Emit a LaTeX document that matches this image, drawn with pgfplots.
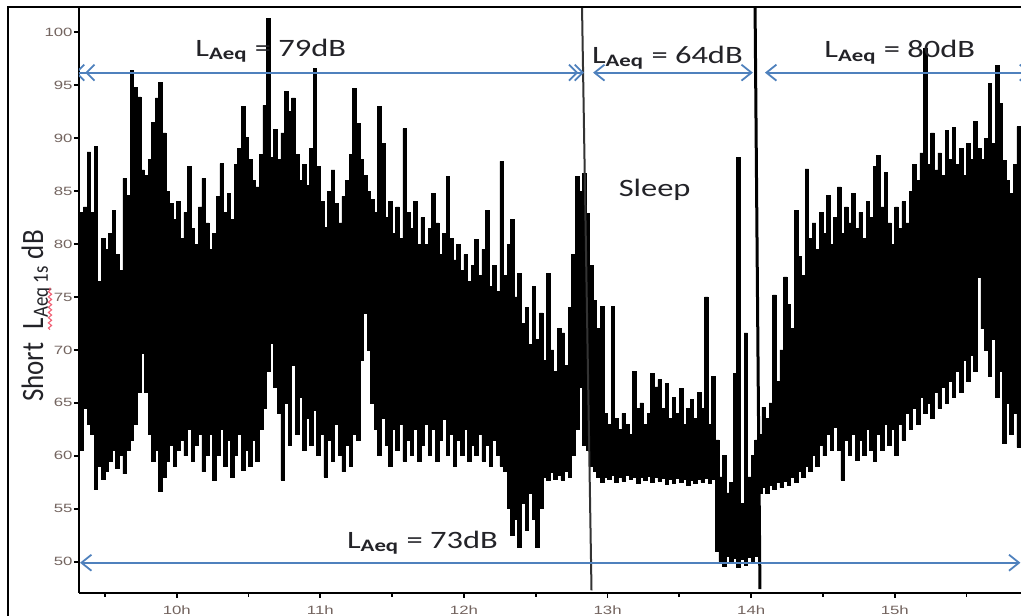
\documentclass[border=0pt]{standalone}
\usepackage{pgfplots}
\pgfplotsset{compat=1.18}
\usepackage{pgfplotstable}
\usepgfplotslibrary{fillbetween}
\usetikzlibrary{arrows.meta,decorations.pathmorphing}
\usepackage{fontspec}
\setmainfont{Carlito}
\newfontfamily\annfont[FakeStretch=1.3]{Carlito}
\newfontfamily\tickfont[FakeStretch=1.4]{Liberation Sans}
\definecolor{ablue}{RGB}{79,129,189}
\definecolor{tickgray}{RGB}{115,100,95}
\definecolor{txt}{RGB}{35,35,40}
\definecolor{squig}{RGB}{240,95,115}
\newcommand\LA{L\textsubscript{\bfseries Aeq}}

\pgfplotstableread{
x u l
9.319 83.0 60.5
9.325 83.0 60.5
9.350 83.5 64.5
9.375 88.7 63.0
9.400 83.0 62.0
9.425 89.2 56.8
9.450 76.5 59.0
9.475 80.5 57.8
9.500 79.5 58.5
9.525 81.0 59.5
9.550 83.2 60.5
9.575 79.0 58.8
9.600 77.5 60.0
9.625 86.2 58.3
9.650 84.6 60.5
9.675 96.4 61.5
9.700 94.8 63.0
9.725 93.9 66.0
9.750 87.0 69.7
9.775 86.5 66.0
9.800 88.0 62.0
9.825 91.5 59.5
9.850 93.8 60.5
9.875 95.3 56.6
9.900 90.5 58.0
9.925 85.0 59.5
9.950 83.8 61.0
9.975 82.3 59.0
10.000 84.0 60.5
10.025 80.5 61.5
10.050 83.0 60.0
10.075 87.3 62.5
10.100 81.5 59.5
10.125 80.0 61.0
10.150 83.5 62.0
10.175 86.2 58.5
10.200 82.0 60.0
10.225 79.5 62.0
10.250 81.0 57.7
10.275 84.5 60.0
10.300 87.6 62.5
10.325 83.0 59.0
10.350 84.8 61.5
10.375 82.3 58.0
10.400 87.5 60.0
10.425 89.0 62.0
10.450 93.0 58.6
10.475 90.1 60.5
10.500 88.0 59.0
10.525 86.0 61.5
10.550 85.4 59.5
10.575 88.5 62.5
10.600 93.1 64.5
10.625 101.3 68.0
10.650 88.2 70.6
10.675 90.8 66.5
10.700 88.0 64.0
10.725 90.5 57.7
10.750 94.4 65.0
10.775 92.5 61.0
10.800 93.8 68.5
10.825 88.5 62.0
10.850 86.0 65.5
10.875 87.5 60.5
10.900 85.5 63.5
10.925 89.0 61.0
10.950 96.6 64.3
10.975 87.3 60.0
11.000 84.0 62.0
11.025 81.6 58.0
11.050 85.0 61.5
11.075 87.0 59.5
11.100 83.8 63.0
11.125 82.0 60.0
11.150 84.5 58.5
11.175 86.0 61.0
11.200 88.5 59.0
11.225 94.7 62.0
11.250 91.4 61.5
11.275 88.0 69.0
11.300 86.5 73.5
11.325 85.0 70.0
11.350 84.2 65.0
11.375 83.0 62.5
11.400 93.0 60.0
11.425 89.5 63.5
11.450 82.5 61.0
11.475 84.0 59.0
11.500 81.0 62.5
11.525 83.5 60.5
11.550 80.5 63.0
11.575 90.9 59.5
11.600 83.0 61.5
11.625 81.5 60.0
11.650 84.0 62.5
11.675 80.0 59.5
11.700 82.5 61.0
11.725 80.0 63.0
11.750 81.5 60.0
11.775 84.8 62.5
11.800 82.0 59.5
11.825 79.0 61.5
11.850 81.0 63.4
11.875 86.4 60.0
11.900 80.5 62.0
11.925 78.5 59.0
11.950 80.0 61.5
11.975 77.5 60.0
12.000 79.0 62.5
12.025 76.5 59.5
12.050 78.0 61.0
12.075 80.4 60.0
12.100 77.0 62.0
12.125 79.5 59.5
12.150 83.2 61.0
12.175 76.0 59.0
12.200 78.0 61.5
12.225 75.5 60.0
12.250 87.8 59.0
12.275 77.0 58.5
12.300 80.0 55.0
12.325 82.3 52.5
12.350 75.0 54.0
12.375 77.2 51.4
12.400 72.5 55.5
12.425 74.0 53.0
12.450 70.5 56.5
12.475 76.0 54.0
12.500 71.0 51.4
12.525 73.5 55.0
12.550 69.0 58.0
12.575 77.2 57.7
12.600 70.0 58.4
12.625 68.0 57.8
12.650 72.0 58.2
12.675 71.6 57.7
12.700 68.5 58.5
12.725 74.0 58.0
12.750 79.0 60.0
12.775 86.4 62.5
12.800 85.0 66.5
12.825 86.7 61.0
12.850 82.9 60.5
12.875 78.0 59.0
12.900 74.7 58.5
12.925 72.0 58.0
12.950 74.1 57.5
12.975 64.0 58.0
13.000 63.0 57.8
13.025 74.1 58.2
13.050 63.5 57.5
13.075 62.5 58.0
13.100 64.0 57.6
13.125 63.0 58.2
13.150 62.0 57.8
13.175 68.0 58.0
13.200 64.5 57.4
13.225 65.0 58.0
13.250 63.0 57.7
13.275 64.0 58.1
13.300 67.8 57.5
13.325 66.5 58.0
13.350 67.2 57.6
13.375 64.5 57.9
13.400 66.8 57.3
13.425 63.5 57.8
13.450 65.5 57.4
13.475 64.0 57.9
13.500 66.4 57.5
13.525 63.0 57.8
13.550 64.5 57.2
13.575 65.3 57.7
13.600 63.5 57.4
13.625 66.0 57.8
13.650 64.5 57.5
13.675 75.0 57.9
13.700 63.0 57.4
13.725 67.5 57.8
13.750 61.5 51.0
13.775 58.0 50.0
13.800 60.0 49.6
13.825 56.5 50.5
13.850 57.5 49.8
13.875 67.8 50.3
13.900 88.2 49.5
13.925 55.5 50.2
13.950 71.6 49.7
13.975 58.0 50.4
14.000 60.0 49.8
14.025 61.5 50.5
14.050 62.0 56.5
14.075 64.6 57.0
14.100 63.5 56.5
14.125 65.0 57.2
14.150 75.2 56.8
14.175 67.0 57.5
14.200 70.0 57.0
14.225 76.9 57.6
14.250 74.3 57.2
14.275 72.0 58.0
14.300 83.2 57.5
14.325 78.8 58.5
14.350 77.0 58.0
14.375 87.1 59.0
14.400 80.5 58.5
14.425 82.0 60.0
14.450 79.5 59.0
14.475 83.0 61.0
14.500 81.0 60.0
14.525 84.6 62.0
14.550 80.0 60.5
14.575 82.5 62.7
14.600 85.4 60.5
14.625 81.0 57.7
14.650 83.5 61.5
14.675 82.0 60.0
14.700 84.8 62.0
14.725 81.5 59.6
14.750 83.0 61.5
14.775 80.5 60.0
14.800 84.0 62.5
14.825 82.5 60.5
14.850 87.3 59.5
14.875 88.4 62.0
14.900 83.5 60.5
14.925 86.8 63.0
14.950 82.0 61.0
14.975 80.0 62.5
15.000 83.5 60.0
15.025 81.5 63.0
15.050 84.0 61.5
15.075 82.0 64.0
15.100 85.0 62.5
15.125 87.5 64.5
15.150 86.0 63.0
15.175 88.6 65.5
15.200 98.5 64.0
15.225 87.5 65.0
15.250 90.5 63.5
15.275 87.0 66.0
15.300 88.6 64.5
15.325 86.5 66.5
15.350 90.7 65.0
15.375 88.0 67.0
15.400 91.0 65.5
15.425 87.5 68.0
15.450 89.0 66.0
15.475 86.5 69.0
15.500 89.5 67.0
15.525 88.0 69.5
15.550 91.6 68.0
15.575 89.0 76.9
15.600 88.0 72.0
15.625 90.0 70.0
15.650 95.2 67.5
15.675 89.5 71.0
15.700 96.9 65.5
15.725 93.3 68.0
15.750 87.9 61.2
15.775 86.0 65.0
15.800 84.8 62.0
15.825 87.5 64.0
15.850 91.1 60.8
15.879 86.0 63.0
}\noisedata

\begin{document}
\begin{tikzpicture}
\begin{axis}[
  at={(0,0)}, anchor=south west,
  scale only axis, width=471pt, height=292.85pt,
  xmin=9.319, xmax=15.879, ymin=47.07, ymax=102.39,
  axis lines=left,
  axis line style={-, line width=1pt, black},
  tick align=outside,
  xtick={10,11,12,13,14,15},
  xticklabels={10h,11h,12h,13h,14h,15h},
  minor xtick={9.5,10.5,11.5,12.5,13.5,14.5,15.5},
  ytick={50,55,60,65,70,75,80,85,90,95,100},
  major tick length=2.5pt, minor tick length=2pt,
  every tick/.style={black, line width=0.9pt},
  /pgf/number format/assume math mode=true,
  ticklabel style={font=\tickfont\fontsize{6}{7}\selectfont, text=tickgray},
  xticklabel style={yshift=-0.5pt},
  yticklabel style={xshift=2.8pt},
]
\addplot[const plot, name path=U, black, line width=0.35pt] table[x=x,y=u]{\noisedata};
\addplot[const plot, name path=L, black, line width=0.35pt] table[x=x,y=l]{\noisedata};
\addplot[black] fill between[of=U and L];

% divider lines
\draw[black!80, line width=1pt] (axis cs:12.822,102.39) -- (axis cs:12.888,47.3);
\draw[black, line width=1.5pt] (axis cs:14.027,102.39) -- (axis cs:14.061,47.4);

% arrows
\draw[ablue, line width=0.9pt,
  {Straight Barb[length=4pt,width=8pt,sep=-2.2pt] Straight Barb[length=4pt,width=8pt]}-{Straight Barb[length=4pt,width=8pt,sep=-2.2pt] Straight Barb[length=4pt,width=8pt]}]
  (axis cs:9.322,96.19) -- (axis cs:12.836,96.19);
\draw[ablue, line width=0.9pt, {Straight Barb[length=5pt,width=8pt]}-{Straight Barb[length=5pt,width=8pt]}]
  (axis cs:12.899,96.19) -- (axis cs:14.012,96.19);
\draw[ablue, line width=0.9pt, {Straight Barb[length=5pt,width=8pt]}-{Straight Barb[length=5pt,width=8pt]}]
  (axis cs:14.096,96.19) -- (axis cs:15.95,96.19);
\draw[ablue, line width=0.9pt, {Straight Barb[length=5pt,width=8pt]}-{Straight Barb[length=5pt,width=8pt]}]
  (axis cs:9.326,49.9) -- (axis cs:15.875,49.9);

% labels
\begin{scope}[every node/.style={anchor=base west, inner sep=0pt, text=txt, font=\annfont\fontsize{12.5}{15}\selectfont}]
\node at (axis cs:10.127,97.76) {\LA{} = 79dB};
\node at (axis cs:12.889,97.07) {\LA{} = 64dB};
\node at (axis cs:14.507,97.59) {\LA{} = 80dB};
\node at (axis cs:11.183,51.27) {\LA{} = 73dB};
\node at (axis cs:13.075,84.48) {Sleep};
\end{scope}
\end{axis}
% outer frame
\draw[line width=1pt] (-35.5pt,-12pt) -- (-35.5pt,292.85pt) -- (475pt,292.85pt);
% y label
\node[rotate=90, anchor=base, inner sep=0pt, text=txt, font=\fontsize{13.5}{16}\selectfont]
  at (-18pt,138.35pt) {\scalebox{1}[1.15]{Short\enspace L\textsubscript{Aeq 1s} dB}};
\draw[squig, line width=0.55pt, decorate, decoration={snake, amplitude=0.8pt, segment length=2.6pt}]
  (-14.5pt,131.5pt) -- (-14.5pt,152.5pt);
\pgfresetboundingbox
\path (-39.5pt,-11.15pt) rectangle (471pt,296.35pt);
\end{tikzpicture}
\end{document}
